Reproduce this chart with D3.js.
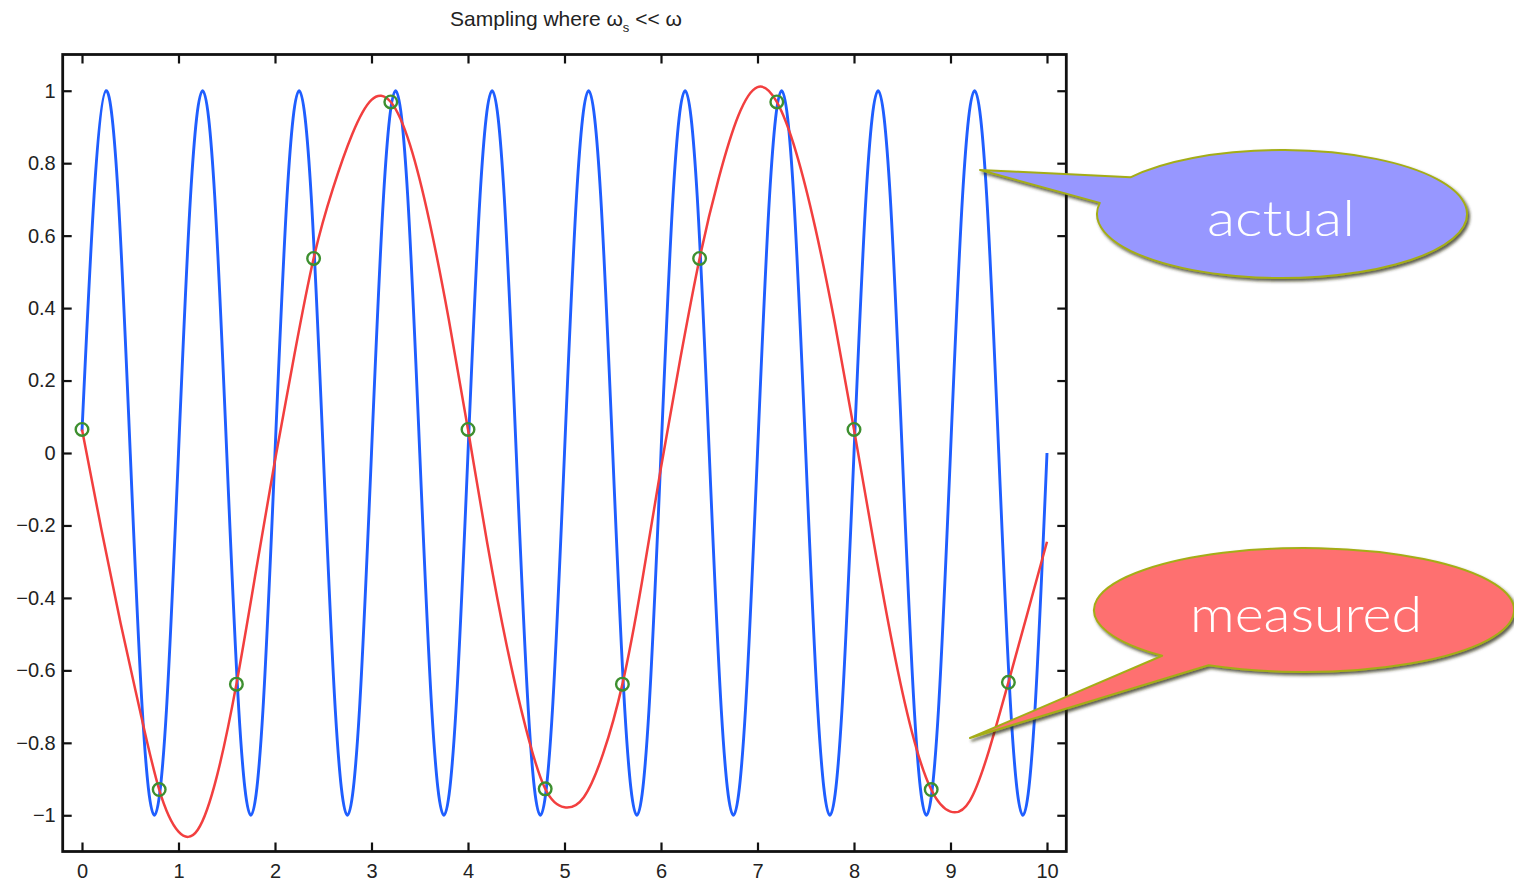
<!DOCTYPE html>
<html><head><meta charset="utf-8">
<script src="https://cdn.jsdelivr.net/npm/d3@7"></script>
<style>html,body{margin:0;padding:0;background:#fff;} svg{display:block}</style>
</head><body>
<svg id="chart" width="1514" height="882"></svg>
<script>
// ---------- data ----------
const xTicks = [0,1,2,3,4,5,6,7,8,9,10];
const yTicks = [1,0.8,0.6,0.4,0.2,0,-0.2,-0.4,-0.6,-0.8,-1];
const yTickLabels = ["1","0.8","0.6","0.4","0.2","0","\u22120.2","\u22120.4","\u22120.6","\u22120.8","\u22121"];

// actual signal (blue), read every 1/8 s
const blueStep = 0.125;
const blueV = [0.06,0.71,1,0.71,0,-0.71,-1,-0.71,
  0,0.71,1,0.71,0,-0.71,-1,-0.71,
  0,0.71,1,0.71,0,-0.71,-1,-0.71,
  0,0.71,1,0.71,0,-0.71,-1,-0.71,
  0,0.71,1,0.71,0,-0.71,-1,-0.71,
  0,0.71,1,0.71,0,-0.71,-1,-0.71,
  0,0.71,1,0.71,0,-0.71,-1,-0.71,
  0,0.71,1,0.71,0,-0.71,-1,-0.71,
  0,0.71,1,0.71,0,-0.71,-1,-0.71,
  0,0.71,1,0.71,0,-0.71,-1,-0.71,
  0];

// measured (red) curve, read every 0.2 s
const redT = [0,0.2,0.4,0.6,0.8,1.0,1.2,1.4,1.6,1.8,2.0,2.2,2.4,2.6,2.8,3.0,3.2,3.4,3.6,3.8,
  4.0,4.2,4.4,4.6,4.8,5.0,5.2,5.4,5.6,5.8,6.0,6.2,6.4,6.6,6.8,7.0,7.2,7.4,7.6,7.8,
  8.0,8.2,8.4,8.6,8.8,9.0,9.2,9.4,9.6,9.8,10.0];
const redV = [0.065,-0.21,-0.47,-0.71,-0.929,-1.045,-1.04,-0.89,-0.638,-0.33,-0.02,0.27,0.537,0.73,0.88,0.975,0.969,0.85,0.64,0.37,
  0.065,-0.25,-0.53,-0.76,-0.927,-0.978,-0.95,-0.83,-0.638,-0.36,-0.04,0.26,0.537,0.76,0.93,1.01,0.969,0.83,0.62,0.36,
  0.065,-0.24,-0.53,-0.77,-0.929,-0.99,-0.96,-0.82,-0.633,-0.44,-0.245];

// samples (green circles)
const sampleT = [0,0.8,1.6,2.4,3.2,4.0,4.8,5.6,6.4,7.2,8.0,8.8,9.6];
const sampleV = [0.065,-0.929,-0.638,0.537,0.969,0.065,-0.927,-0.638,0.537,0.969,0.065,-0.929,-0.633];

const calloutLabels = ["actual","measured"];

// ---------- drawing ----------
const svg = d3.select("#chart");
const x = d3.scaleLinear().domain([-0.2,10.2]).range([62.7,1066.3]);
const y = d3.scaleLinear().domain([-1.1,1.1]).range([851.5,54.5]);

const blueData = blueV.map((v,i)=>({t:i*blueStep, v}));
const redData = redT.map((t,i)=>({t, v:redV[i]}));
const sampleData = sampleT.map((t,i)=>({t, v:sampleV[i]}));

const line = d3.line().x(d=>x(d.t)).y(d=>y(d.v)).curve(d3.curveNatural);

svg.append("path").datum(blueData).attr("d",line)
  .attr("fill","none").attr("stroke","#1f5eff").attr("stroke-width",2.9);
svg.append("path").datum(redData).attr("d",line)
  .attr("fill","none").attr("stroke","#f23f3f").attr("stroke-width",2.5);
svg.append("g").selectAll("circle").data(sampleData).join("circle")
  .attr("cx",d=>x(d.t)).attr("cy",d=>y(d.v)).attr("r",6.3)
  .attr("fill","none").attr("stroke","#3d8f2f").attr("stroke-width",2.4);

// axes (MATLAB box style, ticks inward)
const tickLen = 9;
const axisFont = "'Liberation Sans', Arial, sans-serif";
const gB = svg.append("g").attr("transform",`translate(0,${y.range()[0]})`)
  .call(d3.axisBottom(x).tickValues(xTicks).tickSizeInner(-tickLen).tickSizeOuter(0).tickPadding(12).tickFormat(d3.format("d")));
const gT = svg.append("g").attr("transform",`translate(0,${y.range()[1]})`)
  .call(d3.axisTop(x).tickValues(xTicks).tickSizeInner(-tickLen).tickSizeOuter(0).tickFormat(""));
const gL = svg.append("g").attr("transform",`translate(${x.range()[0]},0)`)
  .call(d3.axisLeft(y).tickValues(yTicks).tickSizeInner(-tickLen).tickSizeOuter(0).tickPadding(7)
    .tickFormat((d,i)=>yTickLabels[i]));
const gR = svg.append("g").attr("transform",`translate(${x.range()[1]},0)`)
  .call(d3.axisRight(y).tickValues(yTicks).tickSizeInner(-tickLen).tickSizeOuter(0).tickFormat(""));
[gB,gT,gL,gR].forEach(g=>{
  g.select(".domain").remove();
  g.selectAll(".tick line").attr("stroke","#111").attr("stroke-width",2.2);
  g.selectAll("text").attr("font-family",axisFont).attr("font-size",20).attr("fill","#222");
});
gB.selectAll("text").attr("dy","0.71em");
svg.append("rect").attr("x",x.range()[0]).attr("y",y.range()[1])
  .attr("width",x.range()[1]-x.range()[0]).attr("height",y.range()[0]-y.range()[1])
  .attr("fill","none").attr("stroke","#111").attr("stroke-width",2.8);

// title
const title = svg.append("text").attr("x",566).attr("y",26).attr("text-anchor","middle")
  .attr("font-family",axisFont).attr("font-size",21).attr("fill","#222");
title.append("tspan").text("Sampling where \u03c9");
title.append("tspan").attr("font-size",13).attr("dy",6).text("s");
title.append("tspan").attr("dy",-6).text(" << \u03c9");

// callouts
const defs = svg.append("defs");
const f = defs.append("filter").attr("id","sh").attr("x","-10%").attr("y","-20%").attr("width","130%").attr("height","150%");
f.append("feDropShadow").attr("dx",2).attr("dy",2.5).attr("stdDeviation",1.5)
  .attr("flood-color","#2a2a10").attr("flood-opacity",0.75);

function callout(cx,cy,rx,ry,a1,a2,tip,fill,label,tx,ty,tlen){
  const p = a=>[cx+rx*Math.cos(a*Math.PI/180), cy+ry*Math.sin(a*Math.PI/180)];
  const A = p(a1), B = p(a2);
  const d = `M${A[0]},${A[1]} L${tip[0]},${tip[1]} L${B[0]},${B[1]} A${rx},${ry} 0 1 0 ${A[0]},${A[1]} Z`;
  svg.append("path").attr("d",d).attr("fill",fill).attr("stroke","#a4ad18")
    .attr("stroke-width",2).attr("stroke-linejoin","round").attr("filter","url(#sh)");
  svg.append("text").attr("x",tx).attr("y",ty).attr("text-anchor","middle")
    .attr("font-family","Lato, 'Open Sans', sans-serif").attr("font-weight",300)
    .attr("font-size",50).attr("fill","#ffffff")
    .attr("textLength",tlen).attr("lengthAdjust","spacingAndGlyphs").text(label);
}
callout(1282,214,185,64,-145,-170,[980,170],"#9797ff",calloutLabels[0],1281,236,148);
callout(1304,610,210,62,132.5,117,[970,738],"#fe6f6f",calloutLabels[1],1306,632,232);
</script>
</body></html>
